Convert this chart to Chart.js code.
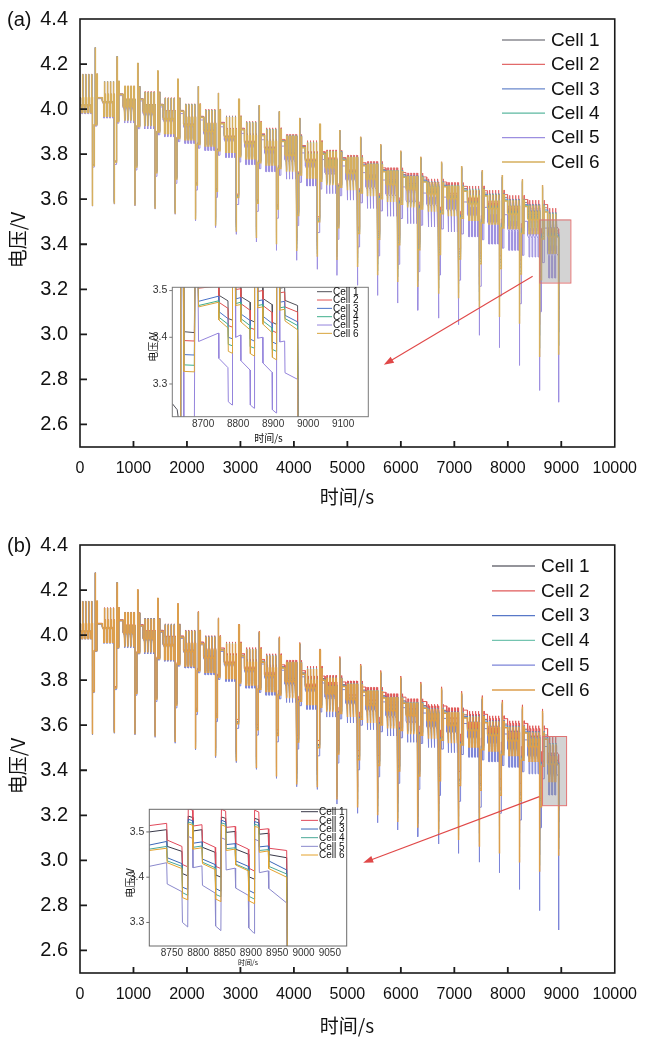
<!DOCTYPE html>
<html>
<head>
<meta charset="utf-8">
<script src="https://cdn.jsdelivr.net/npm/chart.js@4.4.1/dist/chart.umd.min.js"></script>
<style>
  html, body { margin: 0; padding: 0; background: #fff; }
  #wrap { position: relative; width: 647px; height: 1053px; overflow: hidden; }
  canvas { position: absolute; }
</style>
</head>
<body>
<div id="wrap">
  <canvas id="mainA" width="649" height="531" style="left:0;top:-5px"></canvas>
  <canvas id="mainB" width="649" height="531" style="left:0;top:521px"></canvas>
  <canvas id="insetA" width="258" height="172" style="left:118px;top:276px"></canvas>
  <canvas id="insetB" width="256" height="174" style="left:100px;top:798px"></canvas>
</div>
<script>
const FONT = "'Liberation Sans', Arial, sans-serif";
const CJK = "'Noto Sans CJK SC', 'Liberation Sans', sans-serif";

const cellNames = ['Cell 1', 'Cell 2', 'Cell 3', 'Cell 4', 'Cell 5', 'Cell 6'];
const xTicks = [0, 1000, 2000, 3000, 4000, 5000, 6000, 7000, 8000, 9000, 10000];
const yTicks = [2.6, 2.8, 3.0, 3.2, 3.4, 3.6, 3.8, 4.0, 4.2, 4.4];

// start (s) of each group of four small pulses, one group per cycle
const groupStart = [10, 419, 806, 1181, 1556, 1937, 2312, 2700, 3076, 3451, 3832, 4215,
  4583, 4971, 5346, 5721, 6097, 6484, 6859, 7246, 7621, 7996, 8372, 8744];

// ---- panel (a): Cell 6 levels per cycle ----
const restA = [4.05, 4.065, 4.043, 4.018, 3.99, 3.963, 3.935, 3.908, 3.882, 3.856, 3.828, 3.80,
  3.773, 3.748, 3.722, 3.698, 3.676, 3.655, 3.635, 3.614, 3.592, 3.568, 3.543, 3.468];
const spikeA = [4.155, 4.123, 4.10, 4.075, 4.048, 4.02, 3.995, 3.965, 3.94, 3.91, 3.88, 3.852,
  3.81, 3.785, 3.755, 3.725, 3.70, 3.675, 3.658, 3.642, 3.62, 3.595, 3.572, 3.535];
const lowA = [3.985, 3.968, 3.948, 3.924, 3.892, 3.864, 3.836, 3.808, 3.78, 3.752, 3.722, 3.694,
  3.662, 3.64, 3.613, 3.588, 3.563, 3.544, 3.524, 3.507, 3.49, 3.47, 3.448, 3.36];
const bigHighA = [4.274, 4.233, 4.203, 4.169, 4.133, 4.102, 4.072, 4.044, 4.018, 3.991, 3.961, 3.933,
  3.907, 3.877, 3.844, 3.815, 3.788, 3.766, 3.747, 3.729, 3.707, 3.688, 3.662];
const bigLowA = [3.57, 3.58, 3.572, 3.558, 3.536, 3.51, 3.482, 3.455, 3.428, 3.40, 3.37, 3.345,
  3.33, 3.299, 3.262, 3.232, 3.21, 3.18, 3.16, 3.121, 3.077, 3.047, 2.90, 2.91];
const bigLowCell5A = [3.569, 3.578, 3.570, 3.556, 3.533, 3.504, 3.474, 3.444, 3.410, 3.373, 3.329, 3.289,
  3.262, 3.218, 3.173, 3.139, 3.107, 3.072, 3.043, 2.996, 2.941, 2.862, 2.751, 2.699];
const spreadA = [0.05, 0.07, 0.09, 0.11, 0.13, 0.15, 0.18, 0.21, 0.24, 0.27, 0.3, 0.32,
  0.34, 0.4, 0.49, 0.58, 0.65, 0.61, 0.63, 0.67, 0.81, 0.88, 0.95, 1.0];
// cell offsets from Cell 6 at the end of the test (Cell 1..Cell 6)
const offRestA = [0.02, 0.035, 0.01, 0.004, -0.075, 0];
const offStepA = [0.025, 0.04, 0.015, 0.006, -0.08, 0];
const offLowA = [0.03, 0.05, 0.025, 0.012, -0.11, 0];
const offSpikeA = [0.008, 0.025, 0.006, 0.003, -0.015, 0];
const offDwellA = [0.05, 0.07, 0.035, 0.015, -0.15, 0];
const offHighA = [-0.01, 0, -0.01, -0.01, -0.02, 0];
const offDeepA = [0.2, 0.15, 0.1, 0.04, 0, 0];

// ---- panel (b) ----
const restB = [4.05, 4.065, 4.042, 4.016, 3.99, 3.962, 3.934, 3.907, 3.88, 3.854, 3.826, 3.80,
  3.772, 3.747, 3.721, 3.697, 3.675, 3.653, 3.632, 3.611, 3.589, 3.565, 3.538, 3.46];
const spikeB = [4.15, 4.12, 4.098, 4.072, 4.046, 4.018, 3.992, 3.963, 3.937, 3.908, 3.878, 3.85,
  3.808, 3.782, 3.752, 3.722, 3.698, 3.672, 3.655, 3.638, 3.616, 3.592, 3.568, 3.515];
const lowB = [3.985, 3.968, 3.948, 3.923, 3.892, 3.863, 3.835, 3.807, 3.779, 3.75, 3.72, 3.692,
  3.66, 3.637, 3.61, 3.585, 3.56, 3.54, 3.52, 3.503, 3.486, 3.465, 3.44, 3.35];
const bigHighB = [4.277, 4.233, 4.20, 4.163, 4.138, 4.104, 4.075, 4.045, 4.015, 3.99, 3.964, 3.934,
  3.901, 3.867, 3.838, 3.813, 3.786, 3.764, 3.744, 3.724, 3.704, 3.682, 3.663];
const bigLowB = [3.56, 3.566, 3.56, 3.55, 3.525, 3.495, 3.462, 3.44, 3.41, 3.372, 3.337, 3.325,
  3.27, 3.235, 3.2, 3.17, 3.145, 3.12, 3.09, 3.06, 3.03, 2.99, 2.95, 3.02];
const bigLowCell5B = [3.557, 3.564, 3.557, 3.546, 3.52, 3.49, 3.456, 3.434, 3.404, 3.364, 3.327, 3.315,
  3.25, 3.209, 3.167, 3.135, 3.105, 3.073, 3.031, 2.992, 2.945, 2.871, 2.777, 2.691];
const spreadB = [0.05, 0.07, 0.09, 0.11, 0.13, 0.15, 0.18, 0.21, 0.24, 0.28, 0.32, 0.36,
  0.4, 0.45, 0.5, 0.55, 0.6, 0.65, 0.7, 0.75, 0.8, 0.86, 0.93, 1.0];
const offRestB = [0.02, 0.05, 0.01, 0.003, -0.035, 0];
const offStepB = [0.018, 0.05, 0.01, 0.004, -0.047, 0];
const offLowB = [0.025, 0.07, 0.02, 0.01, -0.06, 0];
const offSpikeB = [0.006, 0.032, 0.006, 0.003, -0.028, 0];
const offDwellB = [0.04, 0.09, 0.03, 0.012, -0.1, 0];
const offHighB = [-0.01, 0.01, -0.01, -0.01, -0.02, 0];
const offDeepB = [0.15, 0.2, 0.08, 0.03, 0, 0];

// depth of the sub-levels below the rest voltage
const depth = { step: -0.028, sag: -0.012, dwell: -0.3, plateau: -0.12 };
// timing of one small pulse and of the large pulse (seconds from group start)
const pulseGap = 56;
const pulseShape = [[0, 'step'], [24, 'stepEnd'], [25, 'low'], [34, 'low'], [35, 'spike'],
  [42, 'spike'], [43, 'rest'], [55, 'rest']];
const bigShape = [[222, 'deep'], [225, 'dwell'], [256, 'dwell'], [258, 'plateau'], [272, 'plateau'],
  [273, 'high'], [279, 'high'], [281, 'plateau'], [305, 'plateau'], [306, 'spike'], [313, 'spike'], [314, 'rest']];
const endShape = [[0, 'step'], [36, 'stepEnd'], [38, 'deep'], [40, 'deep']];

// ---- inset (a): 8612-9172 s ----
const insetTimeA = [8612, 8626, 8634, 8636, 8643, 8645, 8675, 8677, 8685, 8687, 8744, 8745, 8771, 8772,
  8783, 8784, 8792, 8793, 8807, 8808, 8834, 8835, 8846, 8847, 8855, 8856, 8870, 8871, 8897, 8898,
  8909, 8910, 8918, 8919, 8933, 8934, 8970, 8972];
const insetCellsA = [
  [3.258, 3.245, 3.20, 3.66, 3.64, 3.412, 3.410, 3.60, 3.58, 3.515, 3.522, 3.49, 3.478, 3.44, 3.437, 3.56, 3.555,
    3.512, 3.514, 3.487, 3.475, 3.437, 3.433, 3.555, 3.55, 3.508, 3.51, 3.483, 3.47, 3.432, 3.428, 3.55, 3.545,
    3.505, 3.507, 3.479, 3.468, 3.05],
  [3.215, 3.205, 3.18, 3.65, 3.63, 3.393, 3.392, 3.59, 3.57, 3.505, 3.51, 3.475, 3.462, 3.425, 3.422, 3.555, 3.55,
    3.502, 3.504, 3.472, 3.458, 3.42, 3.417, 3.55, 3.545, 3.498, 3.50, 3.468, 3.453, 3.414, 3.41, 3.545, 3.54,
    3.495, 3.497, 3.465, 3.454, 3.04],
  [3.20, 3.19, 3.17, 3.63, 3.61, 3.363, 3.362, 3.58, 3.56, 3.477, 3.488, 3.455, 3.44, 3.40, 3.397, 3.545, 3.54,
    3.482, 3.485, 3.45, 3.436, 3.396, 3.392, 3.54, 3.535, 3.478, 3.48, 3.445, 3.43, 3.39, 3.386, 3.535, 3.53,
    3.475, 3.477, 3.447, 3.433, 3.03],
  [3.19, 3.18, 3.16, 3.62, 3.60, 3.341, 3.340, 3.57, 3.55, 3.468, 3.478, 3.443, 3.428, 3.385, 3.382, 3.54, 3.535,
    3.472, 3.475, 3.44, 3.425, 3.38, 3.377, 3.535, 3.53, 3.468, 3.47, 3.435, 3.42, 3.374, 3.37, 3.53, 3.525,
    3.463, 3.465, 3.44, 3.425, 3.02],
  [3.10, 3.09, 3.05, 3.60, 3.58, 3.20, 3.20, 3.56, 3.54, 3.391, 3.409, 3.355, 3.335, 3.262, 3.255, 3.53, 3.525,
    3.40, 3.405, 3.35, 3.33, 3.255, 3.248, 3.525, 3.52, 3.398, 3.40, 3.345, 3.325, 3.245, 3.238, 3.52, 3.515,
    3.39, 3.392, 3.324, 3.31, 2.9],
  [3.18, 3.17, 3.16, 3.61, 3.59, 3.327, 3.326, 3.55, 3.53, 3.465, 3.475, 3.437, 3.42, 3.37, 3.366, 3.54, 3.535,
    3.468, 3.47, 3.433, 3.416, 3.365, 3.36, 3.535, 3.53, 3.463, 3.465, 3.428, 3.41, 3.357, 3.352, 3.53, 3.525,
    3.458, 3.46, 3.435, 3.416, 3.0]
];
const insetXTicksA = [8700, 8800, 8900, 9000, 9100];

// ---- inset (b): 8707-9082 s ----
const insetTimeB = [8707, 8740, 8741, 8769, 8770, 8780, 8781, 8789, 8790, 8807, 8808, 8832, 8833, 8843, 8844,
  8852, 8853, 8870, 8871, 8895, 8896, 8906, 8907, 8915, 8916, 8933, 8934, 8968, 8970, 8975];
const insetCellsB = [
  [3.500, 3.505, 3.468, 3.457, 3.408, 3.403, 3.535, 3.532, 3.502, 3.505, 3.466, 3.455, 3.405, 3.400, 3.533,
    3.530, 3.499, 3.501, 3.462, 3.451, 3.401, 3.396, 3.530, 3.527, 3.495, 3.497, 3.450, 3.443, 3.15, 3.0],
  [3.514, 3.519, 3.482, 3.468, 3.428, 3.423, 3.552, 3.548, 3.513, 3.516, 3.479, 3.466, 3.424, 3.419, 3.55,
    3.546, 3.51, 3.512, 3.475, 3.462, 3.42, 3.414, 3.548, 3.544, 3.505, 3.507, 3.464, 3.459, 3.17, 3.02],
  [3.471, 3.479, 3.443, 3.430, 3.378, 3.373, 3.528, 3.525, 3.475, 3.478, 3.440, 3.428, 3.375, 3.369, 3.526,
    3.522, 3.472, 3.474, 3.436, 3.424, 3.371, 3.365, 3.523, 3.520, 3.467, 3.469, 3.436, 3.416, 3.12, 2.98],
  [3.462, 3.468, 3.436, 3.424, 3.366, 3.360, 3.522, 3.519, 3.466, 3.469, 3.433, 3.421, 3.362, 3.357, 3.520,
    3.517, 3.463, 3.465, 3.429, 3.417, 3.358, 3.352, 3.517, 3.514, 3.459, 3.461, 3.424, 3.407, 3.11, 2.97],
  [3.424, 3.432, 3.385, 3.368, 3.300, 3.290, 3.490, 3.486, 3.421, 3.425, 3.382, 3.365, 3.292, 3.282, 3.487,
    3.483, 3.416, 3.420, 3.376, 3.360, 3.288, 3.276, 3.484, 3.480, 3.410, 3.414, 3.375, 3.343, 3.0, 2.8],
  [3.459, 3.464, 3.432, 3.419, 3.355, 3.350, 3.518, 3.515, 3.462, 3.465, 3.430, 3.417, 3.352, 3.346, 3.516,
    3.512, 3.459, 3.462, 3.427, 3.414, 3.348, 3.342, 3.512, 3.510, 3.455, 3.458, 3.419, 3.400, 3.10, 2.95]
];
const insetXTicksB = [8750, 8800, 8850, 8900, 8950, 9000, 9050];
const insetYTicks = [3.3, 3.4, 3.5];

// zoom box [x0, x1, y0, y1] and arrow [[x, y], [x, y]] in data units
const zoomBoxA = [8590, 9170, 3.23, 3.51];
const arrowA = [[8465, 3.258], [5681, 2.865]];
const zoomBoxB = [8640, 9090, 3.245, 3.552];
const arrowB = [[8590, 3.283], [5295, 2.989]];

const colorsA = ['#8a8a90', '#e26a6a', '#6a88cc', '#5cb8a0', '#9c8ee0', '#d6af5e'];
const colorsB = ['#707078', '#e05a5a', '#5878c8', '#74c4b0', '#7c84d8', '#dc9e4c'];
const insetColorsA = ['#505058', '#e05050', '#4a72c8', '#3fae8c', '#9484dc', '#d8a43c'];
const insetColorsB = ['#383848', '#e0485a', '#3a66b8', '#4aa898', '#8a88cc', '#e4a22c'];

const panelA = { rest: restA, spike: spikeA, low: lowA, bigHigh: bigHighA, bigLow: bigLowA,
  bigLow5: bigLowCell5A, spread: spreadA, offRest: offRestA, offStep: offStepA, offLow: offLowA,
  offSpike: offSpikeA, offDwell: offDwellA, offHigh: offHighA, offDeep: offDeepA };
const panelB = { rest: restB, spike: spikeB, low: lowB, bigHigh: bigHighB, bigLow: bigLowB,
  bigLow5: bigLowCell5B, spread: spreadB, offRest: offRestB, offStep: offStepB, offLow: offLowB,
  offSpike: offSpikeB, offDwell: offDwellB, offHigh: offHighB, offDeep: offDeepB };

function levelFor(panel, k, c, key) {
  const f = panel.spread[k];
  const rest = panel.rest[k];
  switch (key) {
    case 'rest': return rest + panel.offRest[c] * f;
    case 'step': return rest + depth.step + panel.offStep[c] * f;
    case 'stepEnd': return rest + depth.step + depth.sag + panel.offStep[c] * f;
    case 'low': return panel.low[k] + panel.offLow[c] * f;
    case 'spike': return panel.spike[k] + panel.offSpike[c] * f;
    case 'deep': return c === 4 ? panel.bigLow5[k] : panel.bigLow[k] + panel.offDeep[c] * f;
    case 'dwell': return rest + depth.dwell + panel.offDwell[c] * f;
    case 'plateau': return rest + depth.plateau + panel.offLow[c] * f;
    case 'high': return panel.bigHigh[k] + panel.offHigh[c] * f;
  }
  return rest;
}

function buildCellSeries(panel, c) {
  const pts = [{ x: 0, y: levelFor(panel, 0, c, 'rest') }];
  const n = groupStart.length;
  for (let k = 0; k < n; k++) {
    const g = groupStart[k];
    const last = k === n - 1;
    for (let p = 0; p < 4; p++) {
      const shape = last && p === 3 ? endShape : pulseShape;
      shape.forEach(([dt, key]) => pts.push({ x: g + p * pulseGap + dt, y: levelFor(panel, k, c, key) }));
    }
    if (!last) {
      bigShape.forEach(([dt, key]) => pts.push({ x: g + dt, y: levelFor(panel, k, c, key) }));
      pts.push({ x: groupStart[k + 1] - 1, y: levelFor(panel, k, c, 'rest') });
    }
  }
  return pts;
}

function mainDatasets(panel, colors) {
  return cellNames.map((name, c) => ({
    label: name,
    data: buildCellSeries(panel, c),
    borderColor: colors[c],
    backgroundColor: colors[c],
    borderWidth: c === 5 ? 1.5 : 1.0,
    pointRadius: 0,
    tension: 0,
    order: c === 5 ? 0 : 6 - c
  }));
}

function insetDatasets(times, cells, colors) {
  return cellNames.map((name, c) => ({
    label: name,
    data: times.map((t, i) => ({ x: t, y: cells[c][i] })),
    borderColor: colors[c],
    backgroundColor: colors[c],
    borderWidth: 1,
    pointRadius: 0,
    tension: 0,
    order: c === 5 ? 0 : 6 - c
  }));
}

function drawArrow(ctx, x0, y0, x1, y1, color) {
  const ang = Math.atan2(y1 - y0, x1 - x0);
  ctx.save();
  ctx.strokeStyle = color;
  ctx.fillStyle = color;
  ctx.lineWidth = 1.1;
  ctx.beginPath();
  ctx.moveTo(x0, y0);
  ctx.lineTo(x1 - 6 * Math.cos(ang), y1 - 6 * Math.sin(ang));
  ctx.stroke();
  ctx.beginPath();
  ctx.moveTo(x1, y1);
  ctx.lineTo(x1 - 10 * Math.cos(ang) + 3.5 * Math.sin(ang), y1 - 10 * Math.sin(ang) - 3.5 * Math.cos(ang));
  ctx.lineTo(x1 - 10 * Math.cos(ang) - 3.5 * Math.sin(ang), y1 - 10 * Math.sin(ang) + 3.5 * Math.cos(ang));
  ctx.closePath();
  ctx.fill();
  ctx.restore();
}

const decor = {
  id: 'decor',
  beforeDatasetsDraw(chart, args, o) {
    if (!o.whiteArea) return;
    const a = chart.chartArea;
    chart.ctx.save();
    chart.ctx.fillStyle = '#fff';
    chart.ctx.fillRect(a.left, a.top, a.right - a.left, a.bottom - a.top);
    chart.ctx.restore();
  },
  afterDatasetsDraw(chart, args, o) {
    const ctx = chart.ctx;
    const a = chart.chartArea;
    const xs = chart.scales.x, ys = chart.scales.y;
    ctx.save();

    if (o.zoomBox) {
      const [bx0, bx1, by0, by1] = o.zoomBox;
      const px0 = xs.getPixelForValue(bx0), px1 = xs.getPixelForValue(bx1);
      const py0 = ys.getPixelForValue(by1), py1 = ys.getPixelForValue(by0);
      ctx.fillStyle = 'rgba(150,150,150,0.42)';
      ctx.fillRect(px0, py0, px1 - px0, py1 - py0);
      ctx.strokeStyle = '#e07272';
      ctx.lineWidth = 1;
      ctx.strokeRect(px0 + 0.5, py0 + 0.5, px1 - px0, py1 - py0);
    }
    if (o.arrow) {
      const [[ax0, ay0], [ax1, ay1]] = o.arrow;
      drawArrow(ctx, xs.getPixelForValue(ax0), ys.getPixelForValue(ay0),
        xs.getPixelForValue(ax1), ys.getPixelForValue(ay1), '#e04848');
    }

    // frame
    ctx.strokeStyle = o.frameColor;
    ctx.lineWidth = o.frameWidth;
    ctx.strokeRect(a.left, a.top, a.right - a.left, a.bottom - a.top);

    // tick marks
    ctx.lineWidth = o.tickWidth;
    ctx.beginPath();
    if (o.xTickLen) {
      xs.ticks.forEach(t => {
        const px = xs.getPixelForValue(t.value);
        if (px <= a.left + 1 || px >= a.right - 1) return;
        ctx.moveTo(px, a.bottom);
        ctx.lineTo(px, a.bottom - o.xTickLen);
      });
    }
    ys.ticks.forEach(t => {
      const py = ys.getPixelForValue(t.value);
      if (py <= a.top + 1 || py >= a.bottom - 1) return;
      ctx.moveTo(a.left, py);
      ctx.lineTo(a.left + o.yTickLen, py);
    });
    ctx.stroke();

    // legend
    const lg = o.legend;
    ctx.font = lg.font;
    ctx.textBaseline = 'middle';
    ctx.textAlign = 'left';
    chart.data.datasets.forEach((ds, i) => {
      const y = lg.y0 + i * lg.dy;
      ctx.strokeStyle = ds.borderColor;
      ctx.lineWidth = lg.lineWidth;
      ctx.beginPath();
      ctx.moveTo(lg.x0, y);
      ctx.lineTo(lg.x1, y);
      ctx.stroke();
      ctx.fillStyle = '#111';
      ctx.fillText(ds.label, lg.tx, y + 0.5);
    });

    // axis titles and panel tag
    ctx.fillStyle = '#111';
    ctx.textAlign = 'center';
    ctx.font = o.xTitle.font;
    ctx.fillText(o.xTitle.text, o.xTitle.x, o.xTitle.y);
    ctx.save();
    ctx.translate(o.yTitle.x, o.yTitle.y);
    ctx.rotate(-Math.PI / 2);
    ctx.font = o.yTitle.font;
    ctx.fillText(o.yTitle.text, 0, 0);
    ctx.restore();
    if (o.tag) {
      ctx.textAlign = 'left';
      ctx.font = o.tag.font;
      ctx.fillText(o.tag.text, o.tag.x, o.tag.y);
    }
    ctx.restore();
  }
};
Chart.register(decor);

function mainChart(id, panel, colors, tag, box, arrow, legend, titleY) {
  return new Chart(document.getElementById(id), {
    type: 'line',
    data: { datasets: mainDatasets(panel, colors) },
    options: {
      responsive: false,
      animation: false,
      events: [],
      parsing: false,
      normalized: true,
      layout: { padding: { top: 19, right: 34, left: 0, bottom: 0 } },
      plugins: {
        legend: { display: false },
        tooltip: { enabled: false },
        decor: {
          frameColor: '#1a1a1a', frameWidth: 1.6, tickWidth: 1.8, xTickLen: 6, yTickLen: 7,
          zoomBox: box, arrow: arrow, legend: legend,
          xTitle: { text: '时间/s', font: '19px ' + CJK, x: 347, y: titleY },
          yTitle: { text: '电压/V', font: '19px ' + CJK, x: 18, y: 245 },
          tag: { text: tag, font: '20px ' + FONT, x: 7, y: 25 }
        }
      },
      scales: {
        x: {
          type: 'linear', min: 0, max: 10000,
          afterBuildTicks: s => { s.ticks = xTicks.map(v => ({ value: v })); },
          afterFit: s => { s.height = 79; },
          grid: { display: false, drawTicks: false },
          border: { display: false },
          ticks: { padding: 12, autoSkip: false, maxRotation: 0, color: '#111',
            font: { family: FONT, size: 16 }, callback: v => String(v) }
        },
        y: {
          type: 'linear', min: 2.5, max: 4.4,
          afterBuildTicks: s => { s.ticks = yTicks.map(v => ({ value: v })); },
          afterFit: s => { s.width = 80; },
          grid: { display: false, drawTicks: false },
          border: { display: false },
          ticks: { padding: 12, color: '#111', font: { family: FONT, size: 20 },
            callback: v => Number(v).toFixed(1) }
        }
      }
    }
  });
}

function insetChart(id, times, cells, colors, xr, yr, xt, lay, deco) {
  return new Chart(document.getElementById(id), {
    type: 'line',
    data: { datasets: insetDatasets(times, cells, colors) },
    options: {
      responsive: false,
      animation: false,
      events: [],
      parsing: false,
      normalized: true,
      layout: { padding: { top: lay.top, right: lay.right, left: 0, bottom: 0 } },
      plugins: { legend: { display: false }, tooltip: { enabled: false }, decor: deco },
      scales: {
        x: {
          type: 'linear', min: xr[0], max: xr[1],
          afterBuildTicks: s => { s.ticks = xt.map(v => ({ value: v })); },
          afterFit: s => { s.height = lay.xh; },
          grid: { display: false, drawTicks: false },
          border: { display: false },
          ticks: { padding: lay.xpad, autoSkip: false, maxRotation: 0, color: '#333',
            font: { family: FONT, size: 10 }, callback: v => String(v) }
        },
        y: {
          type: 'linear', min: yr[0], max: yr[1],
          afterBuildTicks: s => { s.ticks = insetYTicks.map(v => ({ value: v })); },
          afterFit: s => { s.width = lay.yw; },
          grid: { display: false, drawTicks: false },
          border: { display: false },
          ticks: { padding: 5, color: '#333', font: { family: FONT, size: 10.5 },
            callback: v => Number(v).toFixed(1) }
        }
      }
    }
  });
}

mainChart('mainA', panelA, colorsA, '(a)', zoomBoxA, arrowA,
  { x0: 502, x1: 545, tx: 551, y0: 45, dy: 24.4, lineWidth: 1.3, font: '19px ' + FONT }, 502);
mainChart('mainB', panelB, colorsB, '(b)', zoomBoxB, arrowB,
  { x0: 492, x1: 535, tx: 541, y0: 45, dy: 24.8, lineWidth: 1.3, font: '19px ' + FONT }, 505);

insetChart('insetA', insetTimeA, insetCellsA, insetColorsA, [8612, 9172], [3.23, 3.507], insetXTicksA,
  { top: 9, right: 7.7, xh: 31.3, yw: 54.3, xpad: 2 },
  { whiteArea: true, frameColor: '#7a7a7a', frameWidth: 1, tickWidth: 1, xTickLen: 0, yTickLen: -3,
    legend: { x0: 199, x1: 214, tx: 215, y0: 15.7, dy: 8.33, lineWidth: 1, font: '10px ' + FONT },
    xTitle: { text: '时间/s', font: '10px ' + CJK, x: 150.5, y: 162 },
    yTitle: { text: '电压/V', font: '10px ' + CJK, x: 35, y: 71 } });

insetChart('insetB', insetTimeB, insetCellsB, insetColorsB, [8707, 9082], [3.248, 3.55], insetXTicksB,
  { top: 7, right: 9.3, xh: 26, yw: 49.3, xpad: 1 },
  { whiteArea: true, frameColor: '#6a6a6a', frameWidth: 1, tickWidth: 1, xTickLen: 0, yTickLen: -3,
    legend: { x0: 201, x1: 218, tx: 219, y0: 13.7, dy: 8.66, lineWidth: 1, font: '10px ' + FONT },
    xTitle: { text: '时间/s', font: '7px ' + CJK, x: 148, y: 164 },
    yTitle: { text: '电压/V', font: '10px ' + CJK, x: 30, y: 85 } });
</script>
</body>
</html>
